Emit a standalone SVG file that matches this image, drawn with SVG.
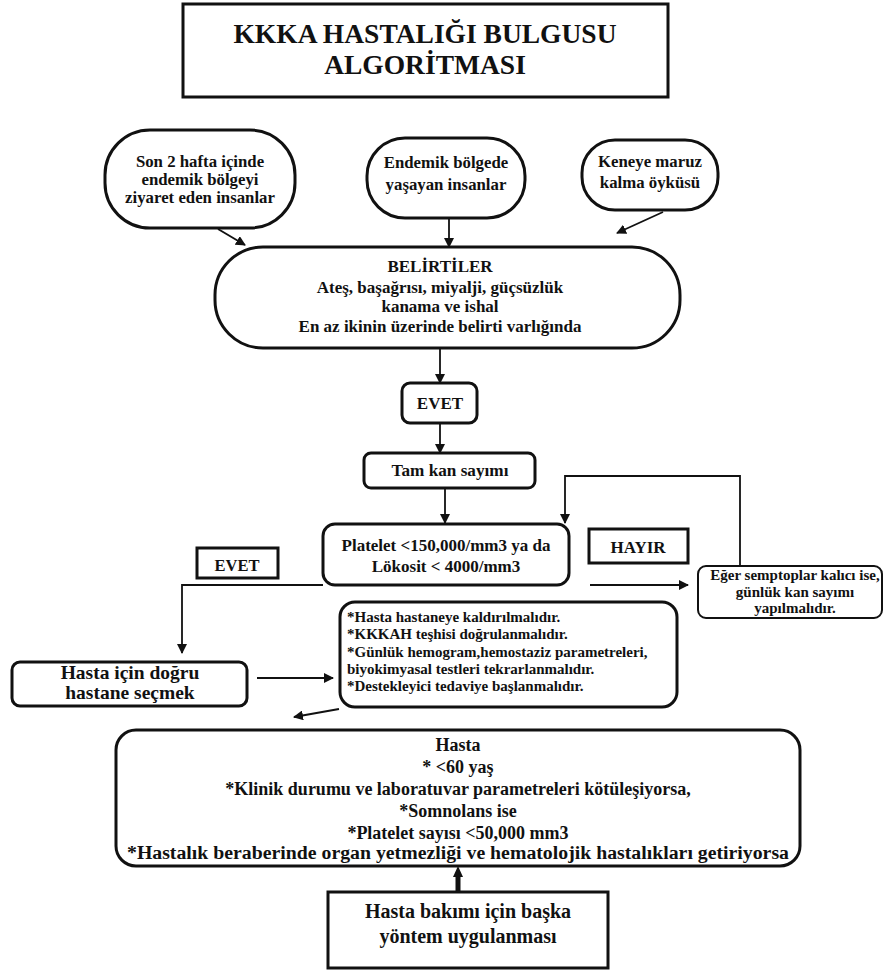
<svg xmlns="http://www.w3.org/2000/svg" width="885" height="972" viewBox="0 0 885 972">
<style>
.c{text-anchor:middle;}
.box{fill:#fff;stroke:#111;stroke-width:3;}
.thin{fill:#fff;stroke:#111;stroke-width:2;}
.ln{fill:none;stroke:#111;stroke-width:1.8;}
</style>
<defs>
<marker id="ah" viewBox="0 0 10 10" refX="9" refY="5" markerWidth="10" markerHeight="10" markerUnits="userSpaceOnUse" orient="auto">
<path d="M0,0 L10,5 L0,10 z" fill="#111"/>
</marker>
</defs>
<rect width="885" height="972" fill="#fff"/>
<g font-family="Liberation Serif" font-weight="bold" fill="#111">
<g id="title">
<rect class="box" x="183" y="4" width="485" height="93"/>
<text class="c" x="425" y="43" font-size="27.5">KKKA HASTALIĞI BULGUSU</text>
<text class="c" x="425" y="74" font-size="27.5">ALGORİTMASI</text>
</g>

<g id="n_ziyaret">
<rect class="box" x="105" y="130" width="190" height="98" rx="45"/>
<text class="c" x="200" y="167" font-size="16.8">Son 2 hafta içinde</text>
<text class="c" x="200" y="185" font-size="16.8">endemik bölgeyi</text>
<text class="c" x="200" y="203" font-size="16.8">ziyaret eden insanlar</text>
</g>

<g id="n_endemik">
<rect class="box" x="367" y="138" width="158" height="80" rx="38"/>
<text class="c" x="446" y="168" font-size="16.8">Endemik bölgede</text>
<text class="c" x="446" y="190" font-size="16.8">yaşayan insanlar</text>
</g>

<g id="n_kene">
<rect class="box" x="582" y="140" width="136" height="70" rx="33"/>
<text class="c" x="650" y="167" font-size="16.8">Keneye maruz</text>
<text class="c" x="650" y="188" font-size="16.8">kalma öyküsü</text>
</g>

<g id="n_belirtiler">
<rect class="box" x="215" y="247" width="465" height="101" rx="48"/>
<text class="c" x="440" y="272" font-size="17">BELİRTİLER</text>
<text class="c" x="440" y="293" font-size="17">Ateş, başağrısı, miyalji, güçsüzlük</text>
<text class="c" x="440" y="312" font-size="17">kanama ve ishal</text>
<text class="c" x="440" y="332" font-size="17">En az ikinin üzerinde belirti varlığında</text>
</g>

<g id="n_evet1">
<rect class="box" x="402" y="383" width="75" height="40" rx="8"/>
<text class="c" x="440" y="409" font-size="17">EVET</text>
</g>

<g id="n_tamkan">
<rect class="box" x="364" y="453" width="171" height="35" rx="7"/>
<text class="c" x="450" y="476" font-size="17.2">Tam kan sayımı</text>
</g>

<g id="n_platelet">
<rect class="box" x="323" y="524" width="246" height="61" rx="12"/>
<text class="c" x="446" y="551" font-size="17">Platelet &lt;150,000/mm3 ya da</text>
<text class="c" x="446" y="572" font-size="17">Lökosit &lt; 4000/mm3</text>
</g>

<g id="n_hayir">
<rect class="box" x="589" y="529" width="99" height="34"/>
<text class="c" x="638" y="553" font-size="17">HAYIR</text>
</g>

<g id="n_eger">
<rect class="thin" x="698" y="566" width="184" height="52" rx="8"/>
<text class="c" x="795" y="580" font-size="15">Eğer semptoplar kalıcı ise,</text>
<text class="c" x="795" y="597" font-size="15">günlük kan sayımı</text>
<text class="c" x="795" y="613" font-size="15">yapılmalıdır.</text>
</g>

<g id="n_evet2">
<rect class="box" x="197" y="548" width="81" height="30"/>
<text class="c" x="237" y="571" font-size="16.5">EVET</text>
</g>

<g id="n_hastane">
<rect class="box" x="12" y="662" width="235" height="44" rx="8"/>
<text class="c" x="130" y="679" font-size="19.5">Hasta için doğru</text>
<text class="c" x="130" y="699" font-size="19.5">hastane seçmek</text>
</g>

<g id="n_tedavi">
<rect class="box" x="340" y="602" width="337" height="105" rx="15"/>
<text x="347" y="622" font-size="15">*Hasta hastaneye kaldırılmalıdır.</text>
<text x="347" y="639" font-size="15">*KKKAH teşhisi doğrulanmalıdır.</text>
<text x="347" y="657" font-size="15">*Günlük hemogram,hemostaziz parametreleri,</text>
<text x="347" y="674" font-size="15">biyokimyasal testleri tekrarlanmalıdır.</text>
<text x="347" y="691" font-size="15">*Destekleyici tedaviye başlanmalıdır.</text>
</g>

<g id="n_hasta">
<rect class="box" x="116" y="730" width="684" height="136" rx="20"/>
<text class="c" x="458" y="751" font-size="18">Hasta</text>
<text class="c" x="458" y="773" font-size="18">* &lt;60 yaş</text>
<text class="c" x="458" y="795" font-size="18">*Klinik durumu ve laboratuvar parametreleri kötüleşiyorsa,</text>
<text class="c" x="458" y="817" font-size="18">*Somnolans ise</text>
<text class="c" x="458" y="839" font-size="18">*Platelet sayısı &lt;50,000 mm3</text>
<text class="c" x="458" y="859" font-size="18" textLength="662" lengthAdjust="spacingAndGlyphs">*Hastalık beraberinde organ yetmezliği ve hematolojik hastalıkları getiriyorsa</text>
</g>

<g id="n_baska">
<rect class="box" x="328" y="892" width="280" height="76"/>
<text class="c" x="468" y="918" font-size="20">Hasta bakımı için başka</text>
<text class="c" x="468" y="943" font-size="20">yöntem uygulanması</text>
</g>
</g>
<g id="connectors">
<line class="ln" x1="218" y1="229" x2="245" y2="245" marker-end="url(#ah)"/>
<line class="ln" x1="449" y1="218" x2="449" y2="247" marker-end="url(#ah)"/>
<line class="ln" x1="663" y1="212" x2="617" y2="233" marker-end="url(#ah)"/>
<line class="ln" x1="440" y1="348" x2="440" y2="383" marker-end="url(#ah)"/>
<line class="ln" x1="440" y1="423" x2="440" y2="453" marker-end="url(#ah)"/>
<line class="ln" x1="445" y1="488" x2="445" y2="523" marker-end="url(#ah)"/>
<polyline class="ln" points="740,566 740,476 565,476 565,523" marker-end="url(#ah)"/>
<line class="ln" x1="590" y1="585" x2="688" y2="585" marker-end="url(#ah)"/>
<polyline class="ln" points="323,585 182,585 182,653" marker-end="url(#ah)"/>
<line class="ln" x1="257" y1="678" x2="333" y2="678" marker-end="url(#ah)"/>
<line class="ln" x1="339" y1="709" x2="294" y2="717" marker-end="url(#ah)"/>
<line x1="458" y1="892" x2="458" y2="874" stroke="#111" stroke-width="5"/>
<path d="M453,877 L458,866 L463,877 z" fill="#111"/>
</g>
</svg>
